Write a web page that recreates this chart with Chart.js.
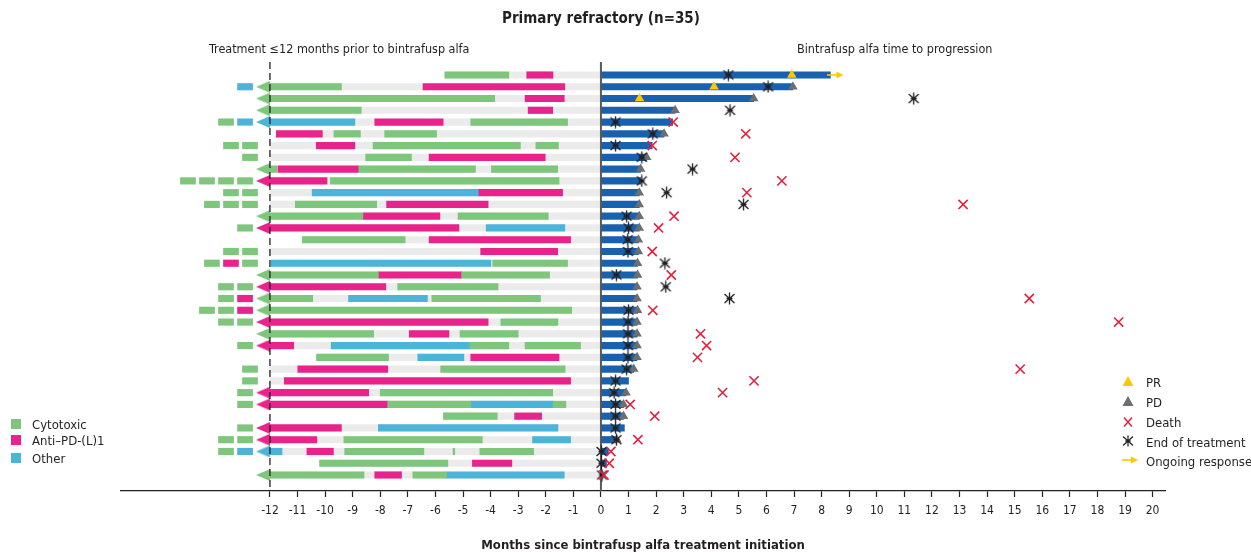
<!DOCTYPE html>
<html><head><meta charset="utf-8">
<script src="https://cdn.jsdelivr.net/npm/chart.js@4"></script>
<style>
html,body{margin:0;padding:0;background:#fff;}
#wrap{position:relative;width:1251px;height:552px;overflow:hidden;font-family:'DejaVu Sans Condensed','Liberation Sans',sans-serif;color:#231f20;}
#c{position:absolute;left:0;top:0;}
.t{position:absolute;white-space:nowrap;line-height:1;transform:translateY(-50%);}
.sq{position:absolute;width:10px;height:10px;}
.sym{position:absolute;transform:translate(-50%,-50%);}
</style></head>
<body><div id="wrap">
<canvas id="c" width="1251" height="552"></canvas>
<div class="t" style="left:0;width:1202px;text-align:center;top:18px;font-weight:bold;font-size:15px;">Primary refractory (n=35)</div>
<div class="t" style="left:209px;top:49px;font-size:12.5px;">Treatment ≤12 months prior to bintrafusp alfa</div>
<div class="t" style="left:797px;top:49px;font-size:12.5px;">Bintrafusp alfa time to progression</div>

<div class="sq" style="left:11px;top:419px;background:#7dc67b"></div>
<div class="t" style="left:32px;top:424px;font-size:13px;">Cytotoxic</div>
<div class="sq" style="left:11px;top:435px;background:#e8248c"></div>
<div class="t" style="left:32px;top:440px;font-size:13px;">Anti–PD-(L)1</div>
<div class="sq" style="left:11px;top:453px;background:#4cb4d8"></div>
<div class="t" style="left:32px;top:458px;font-size:13px;">Other</div>

<svg class="sym" style="left:1128px;top:381px" width="12" height="11"><polygon points="6,0.5 11.5,10.5 0.5,10.5" fill="#fcc800"/></svg>
<div class="t" style="left:1146px;top:382px;font-size:13px;">PR</div>
<svg class="sym" style="left:1128px;top:401px" width="12" height="11"><polygon points="6,0.5 11.5,10.5 0.5,10.5" fill="#6d6e71"/></svg>
<div class="t" style="left:1146px;top:401.5px;font-size:13px;">PD</div>
<svg class="sym" style="left:1128px;top:422px" width="10" height="11"><path d="M1,1 L9,10 M9,1 L1,10" stroke="#e3213f" stroke-width="1.5"/></svg>
<div class="t" style="left:1146px;top:422px;font-size:13px;">Death</div>
<svg class="sym" style="left:1128px;top:441px" width="12" height="12"><path d="M6,0.5 L6,11.5 M1,1.5 L11,10.5 M11,1.5 L1,10.5 M3,6 L9,6" stroke="#231f20" stroke-width="1.2"/></svg>
<div class="t" style="left:1146px;top:441.5px;font-size:13px;">End of treatment</div>
<svg class="sym" style="left:1130px;top:460px" width="16" height="8"><path d="M0,4 L11,4" stroke="#fcc800" stroke-width="1.6"/><polygon points="9,0.5 16,4 9,7.5" fill="#fcc800"/></svg>
<div class="t" style="left:1146px;top:460.5px;font-size:13px;">Ongoing response</div>
</div>
<script>
// ---------------- DATA ----------------
// prior therapy segments: [row, start month, end month]
const cytotoxic = [
 [1,-5.66,-3.34],[2,-12,-9.41],[3,-12,-3.85],[4,-12,-8.69],[5,-4.72,-1.21],
 [6,-9.68,-8.72],[6,-7.84,-5.96],[7,-8.26,-2.92],[7,-2.36,-1.54],[8,-8.53,-6.87],
 [9,-12,-11.75],[9,-8.78,-4.55],[9,-3.97,-1.57],[10,-9.81,-1.52],[12,-11.08,-8.13],
 [13,-12,-8.63],[13,-5.18,-1.91],[15,-10.83,-7.10],[17,-3.92,-1.21],
 [18,-12,-8.07],[18,-5.05,-1.86],[19,-7.37,-3.73],[20,-12,-10.45],[20,-6.13,-2.19],
 [21,-12,-1.06],[22,-3.63,-1.56],[23,-12,-8.24],[23,-5.11,-3.00],
 [24,-4.75,-3.34],[24,-2.75,-0.74],[25,-10.31,-7.70],[26,-5.81,-1.30],[28,-8.00,-1.75],
 [29,-7.73,-4.72],[29,-1.73,-1.27],[30,-5.71,-3.76],[32,-9.32,-4.30],
 [33,-9.29,-6.42],[33,-5.36,-5.30],[33,-4.39,-2.44],[34,-10.20,-5.55],
 [35,-12,-8.59],[35,-6.82,-5.60]
];
const antiPDL1 = [
 [1,-2.69,-1.74],[2,-6.45,-1.31],[3,-2.75,-1.33],[4,-2.64,-1.75],[5,-8.20,-5.72],
 [6,-11.77,-10.10],[7,-10.32,-8.92],[8,-6.23,-2.02],[9,-11.71,-8.78],[10,-12,-9.93],
 [11,-4.42,-1.39],[12,-7.77,-4.09],[13,-8.63,-5.84],[14,-12,-5.15],[15,-6.23,-1.10],
 [16,-4.36,-1.57],[18,-8.07,-5.05],[19,-12,-7.80],[22,-12,-4.09],[23,-6.95,-5.51],
 [24,-12,-11.14],[25,-4.72,-1.52],[26,-10.99,-7.73],[27,-11.48,-1.10],[28,-12,-8.42],
 [29,-12,-7.73],[30,-3.13,-2.15],[31,-12,-9.41],[32,-12,-10.30],[33,-10.66,-9.70],
 [34,-4.66,-3.23],[35,-8.20,-7.23]
];
const otherTx = [
 [5,-12,-8.92],[11,-10.47,-4.42],[14,-4.16,-1.31],[17,-11.95,-3.99],[20,-9.15,-6.29],
 [24,-9.78,-4.75],[25,-6.64,-4.97],[29,-4.72,-1.73],[31,-8.07,-1.56],[32,-2.48,-1.10],
 [33,-12,-11.56],[35,-5.60,-1.33]
];
// earlier lines of therapy (C = cytotoxic, A = anti-PD-(L)1, O = other), rows 1..35
const priorLines = ['','O','','','CO','','CC','C','','CCCC','CC','CCC','','C','','CC','CAC','',
 'CC','CA','CCA','CC','','C','','C','C','C','C','','C','CC','CO','',''];
// bintrafusp alfa time to progression (months), rows 1..35
const timeToProgression = [8.32,6.96,5.54,2.69,2.60,2.29,1.86,1.66,1.44,1.44,1.39,1.39,1.39,1.39,
 1.36,1.36,1.33,1.33,1.31,1.31,1.33,1.31,1.31,1.31,1.31,1.19,1.00,0.91,0.82,0.82,0.85,0.58,0.27,0.20,0.08];
const partialResponse = [[1,6.92],[2,4.10],[3,1.40]];
const progression = [[2,6.96],[3,5.54],[4,2.69],[6,2.29],[8,1.66],[9,1.44],[11,1.39],[12,1.39],
 [13,1.39],[14,1.39],[15,1.36],[16,1.36],[17,1.33],[18,1.33],[19,1.31],[20,1.31],[21,1.33],
 [22,1.31],[23,1.31],[24,1.31],[25,1.31],[26,1.19],[28,0.91],[29,0.82],[30,0.82],[32,0.58]];
const deaths = [[5,2.62],[6,5.25],[7,1.86],[8,4.86],[10,6.56],[11,5.29],[12,13.13],[13,2.65],
 [14,2.09],[16,1.86],[18,2.55],[20,15.53],[21,1.88],[22,18.77],[23,3.61],[24,3.83],[25,3.50],
 [26,15.20],[27,5.55],[28,4.41],[29,1.06],[30,1.95],[32,1.34],[33,0.36],[34,0.30],[35,0.11]];
const endOfTreatment = [[1,4.62],[2,6.06],[3,11.34],[4,4.68],[5,0.53],[6,1.88],[7,0.53],[8,1.48],
 [9,3.32],[10,1.48],[11,2.38],[12,5.17],[13,0.93],[14,1.00],[15,0.97],[16,0.98],[17,2.32],
 [18,0.56],[19,2.35],[20,4.66],[21,1.00],[22,0.98],[23,0.98],[24,0.98],[25,0.98],[26,0.93],
 [27,0.53],[28,0.48],[29,0.53],[30,0.53],[31,0.53],[32,0.56],[33,0.02],[34,0.02],[35,0.04]];
const ongoingResponse = [1];
const xTickValues = [-12,-11,-10,-9,-8,-7,-6,-5,-4,-3,-2,-1,0,1,2,3,4,5,6,7,8,9,10,11,12,13,14,15,16,17,18,19,20];
const axisTitle = 'Months since bintrafusp alfa treatment initiation';

// ---------------- STYLE ----------------
const COLORS = {C:'#7dc67b', A:'#e8248c', O:'#4cb4d8'};
const BAR_BLUE = '#1761ae', BG_GREY = '#ebebeb', PD_GREY = '#6d6e71', PR_YELLOW = '#fcc800', DEATH_RED = '#e3213f', INK = '#231f20';
const FONT = "'DejaVu Sans Condensed','Liberation Sans',sans-serif";
const THICK = 6.5;
const Y_MIN = -0.105, Y_MAX = 36.36;
const DASH_W = 0.545, DASH_GAP = 0.145;

// ---------------- BUILD ----------------
const segs = [
  ...cytotoxic.map(s => ({t:'C', r:s[0], a:s[1], b:s[2]})),
  ...antiPDL1.map(s => ({t:'A', r:s[0], a:s[1], b:s[2]})),
  ...otherTx.map(s => ({t:'O', r:s[0], a:s[1], b:s[2]}))
];
const nRows = timeToProgression.length;
const arrowPts = [], bgData = [], dashData = {C:[], A:[], O:[]};
for (let r = 1; r <= nRows; r++) {
  const rs = segs.filter(s => s.r === r);
  const first = rs.reduce((m, s) => (s.a < m.a ? s : m), rs[0]);
  const hasArrow = first.a <= -12;
  if (hasArrow) arrowPts.push({x:-12.25, y:r, t:first.t});
  const pl = priorLines[r-1];
  bgData.push({y:r, x:[(pl || hasArrow) ? -12 : first.a, 0]});
  const lastEnd = hasArrow ? -12.63 : -12.45;
  for (let j = 0; j < pl.length; j++) {
    const k = pl.length - 1 - j;
    const e = lastEnd - k * (DASH_W + DASH_GAP);
    dashData[pl[j]].push({y:r, x:[e - DASH_W, e]});
  }
}
const segData = t => segs.filter(s => s.t === t).map(s => ({y:s.r, x:[s.a, s.b]}));
const pts = arr => arr.map(p => ({x:p[1], y:p[0]}));

function makeCanvas(w, h, draw) {
  const c = document.createElement('canvas'); c.width = w; c.height = h;
  draw(c.getContext('2d')); return c;
}
const leftArrow = {};
for (const t of ['C','A','O']) leftArrow[t] = makeCanvas(14, 12, ctx => {
  ctx.fillStyle = COLORS[t]; ctx.beginPath(); ctx.moveTo(0,6); ctx.lineTo(14,0); ctx.lineTo(14,12); ctx.closePath(); ctx.fill();
});
const asterisk = makeCanvas(13, 13, ctx => {
  ctx.strokeStyle = INK; ctx.lineWidth = 1.3; ctx.beginPath();
  ctx.moveTo(6.5,0.5); ctx.lineTo(6.5,12.5);
  ctx.moveTo(1.5,2); ctx.lineTo(11.5,11);
  ctx.moveTo(11.5,2); ctx.lineTo(1.5,11);
  ctx.moveTo(3.5,6.5); ctx.lineTo(9.5,6.5);
  ctx.stroke();
});
const ongoingArrow = makeCanvas(16, 8, ctx => {
  ctx.strokeStyle = PR_YELLOW; ctx.lineWidth = 1.6; ctx.beginPath(); ctx.moveTo(0,4); ctx.lineTo(11,4); ctx.stroke();
  ctx.fillStyle = PR_YELLOW; ctx.beginPath(); ctx.moveTo(9,0.5); ctx.lineTo(16,4); ctx.lineTo(9,7.5); ctx.closePath(); ctx.fill();
});

const barDs = (data, color, order) => ({type:'bar', data, backgroundColor:color, borderWidth:0, barThickness:THICK, grouped:false, order});
const scatterDs = (data, extra, order) => Object.assign({type:'scatter', data, order, pointBorderWidth:0}, extra);

const datasets = [
  barDs(bgData, BG_GREY, 20),
  barDs(segData('C'), COLORS.C, 18),
  barDs(segData('A'), COLORS.A, 18),
  barDs(segData('O'), COLORS.O, 18),
  barDs(dashData.C, COLORS.C, 18),
  barDs(dashData.A, COLORS.A, 18),
  barDs(dashData.O, COLORS.O, 18),
  barDs(timeToProgression.map((v, i) => ({y:i+1, x:[0, v]})), BAR_BLUE, 17),
  scatterDs(arrowPts, {pointStyle: c => leftArrow[c.raw.t], pointRadius:6}, 16),
  {type:'line', data:[{x:-12,y:Y_MIN},{x:-12,y:Y_MAX}], borderColor:INK, borderWidth:1.3, borderDash:[7,4], pointRadius:0, order:15},
  {type:'line', data:[{x:0,y:Y_MIN},{x:0,y:Y_MAX}], borderColor:'#58595b', borderWidth:2, pointRadius:0, order:15},
  scatterDs(pts(progression), {pointStyle:'triangle', pointRadius:5.5, backgroundColor:PD_GREY, pointBackgroundColor:PD_GREY}, 10),
  scatterDs(pts(partialResponse), {pointStyle:'triangle', pointRadius:5.5, backgroundColor:PR_YELLOW, pointBackgroundColor:PR_YELLOW}, 10),
  scatterDs(ongoingResponse.map(r => ({x:timeToProgression[r-1] + 0.18, y:r})), {pointStyle:ongoingArrow, pointRadius:6}, 10),
  scatterDs(pts(endOfTreatment), {pointStyle:asterisk, pointRadius:6}, 8),
  scatterDs(pts(deaths), {pointStyle:'crossRot', pointRadius:6.5, pointBorderWidth:1.6, borderColor:DEATH_RED, pointBorderColor:DEATH_RED}, 6)
];

new Chart(document.getElementById('c'), {
  type: 'bar',
  data: {datasets},
  options: {
    indexAxis: 'y',
    responsive: false,
    animation: false,
    devicePixelRatio: 1,
    events: [],
    layout: {padding: {left:121, right:86, top:62, bottom:0}},
    plugins: {legend:{display:false}, tooltip:{enabled:false}, title:{display:false}},
    scales: {
      x: {
        type:'linear', position:'bottom', min:-17.4, max:20.45, offset:false,
        afterBuildTicks: s => { s.ticks = xTickValues.map(v => ({value:v})); },
        afterFit: s => { s.height = 61; },
        ticks: {autoSkip:false, maxRotation:0, padding:7, color:INK, font:{family:FONT, size:12}},
        grid: {drawOnChartArea:false, drawTicks:true, tickLength:6, tickColor:INK, tickWidth:1.2, offset:false},
        border: {display:true, color:INK, width:1.3},
        title: {display:true, text:axisTitle, color:INK, padding:{top:0,bottom:0}, font:{family:FONT, size:13, weight:'bold', lineHeight:1}}
      },
      y: {type:'linear', reverse:true, min:Y_MIN, max:Y_MAX, display:false, offset:false, grid:{offset:false}}
    }
  }
});
</script>
</body></html>
